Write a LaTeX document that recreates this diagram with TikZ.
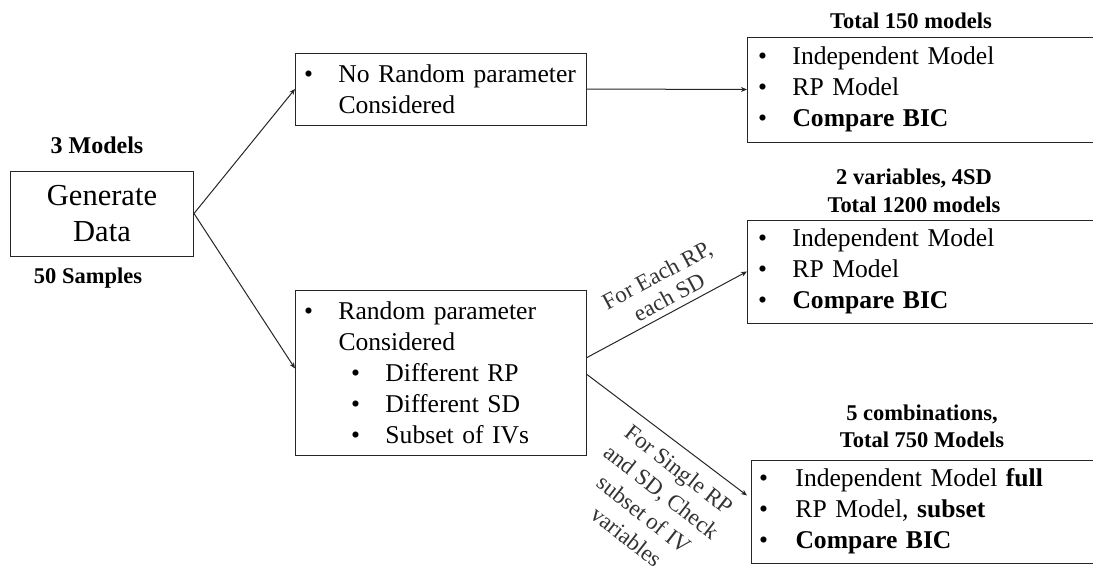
\documentclass[tikz,border=0pt]{standalone}
\usepackage{fontspec}
\setmainfont{Liberation Serif}
\usetikzlibrary{arrows.meta}
\newcommand\mybul[1][34.5pt]{\makebox[#1][l]{\textbullet}}
\newcommand\myind[1][34.5pt]{\hspace*{#1}}
\tikzset{
 box/.style={draw=black!85, line width=1pt, rectangle, anchor=west, inner ysep=0pt, align=left, font=\fontsize{25.6}{31}\selectfont},
 lbl/.style={font=\bfseries\fontsize{22.5}{28}\selectfont, align=center, inner sep=0pt},
 arr/.style={draw=black!85, line width=1pt, -{Stealth[length=6pt,width=5pt]}},
 rot/.style={font=\fontsize{23}{26}\selectfont, align=center, text=black!80, inner sep=0pt}
}
\begin{document}
\begin{tikzpicture}[x=1pt,y=-1pt]
\useasboundingbox (0,0) rectangle (1093,571);
\begin{scope}
\clip (0,0) rectangle (1093,571);
% left
\node[box, align=center, minimum width=183pt, minimum height=85pt, inner sep=0pt, font=\fontsize{30.5}{36}\selectfont] (gen) at (10,213.5) {Generate\\Data};
\node[lbl, font=\bfseries\fontsize{24}{28}\selectfont] (m3) at (97,145) {3 Models};
\node[lbl] (s50) at (88,278) {50 Samples};
% middle
\node[box, text width=274pt, inner xsep=8.5pt, minimum height=72pt] (b1) at (295,89)
 {\mybul\mbox{No Random parameter}\\\myind Considered};
\node[box, text width=274pt, inner xsep=8.5pt, minimum height=165pt] (b2) at (295,372.5)
 {\mybul\mbox{Random parameter}\\\myind Considered\\
  \myind\hspace*{12.5pt}\mybul\mbox{Different RP}\\
  \myind\hspace*{12.5pt}\mybul\mbox{Different SD}\\
  \myind\hspace*{12.5pt}\mybul\mbox{Subset of IVs}};
% right
\node[lbl] (t1) at (911,21) {Total 150 models};
\node[box, text width=339pt, inner xsep=10.5pt, minimum height=105pt] (b3) at (747,89.5)
 {\mybul Independent Model\\\mybul RP Model\\\mybul\textbf{Compare BIC}};
\node[lbl] (t2) at (914,191) {2 variables, 4SD\\Total 1200 models};
\node[box, text width=339pt, inner xsep=10.5pt, minimum height=103pt] (b4) at (747,271.5)
 {\mybul Independent Model\\\mybul RP Model\\\mybul\textbf{Compare BIC}};
\node[lbl, font=\bfseries\fontsize{22.5}{27}\selectfont] (t3) at (922,426.5) {5 combinations,\\Total 750 Models};
\node[box, text width=339pt, inner xsep=7.5pt, minimum height=103pt] (b5) at (751,511.5)
 {\mybul[36.5pt]Independent Model \textbf{full}\\\mybul[36.5pt]RP Model, \textbf{subset}\\\mybul[36.5pt]\textbf{Compare BIC}};
% connectors
\draw[arr] (gen.east) -- (b1.west);
\draw[arr] (gen.east) -- ([yshift=4pt]b2.west);
\draw[arr] (b1.east) -- (b3.west);
\draw[arr] ([yshift=15pt]b2.east) -- (b4.west);
\draw[arr, shorten >=5pt] ([yshift=-2pt]b2.east) -- ([yshift=13pt]b5.west);
% labels on connectors
\node[rot, rotate=28, font=\fontsize{23}{25.5}\selectfont] (l1) at (663,286) {For Each RP,\\each SD};
\node[rot, rotate=-38, font=\fontsize{23}{28.5}\selectfont] (l2) at (653,503) {For Single RP\\and SD, Check\\subset of IV\\variables};
\end{scope}
\end{tikzpicture}
\end{document}
